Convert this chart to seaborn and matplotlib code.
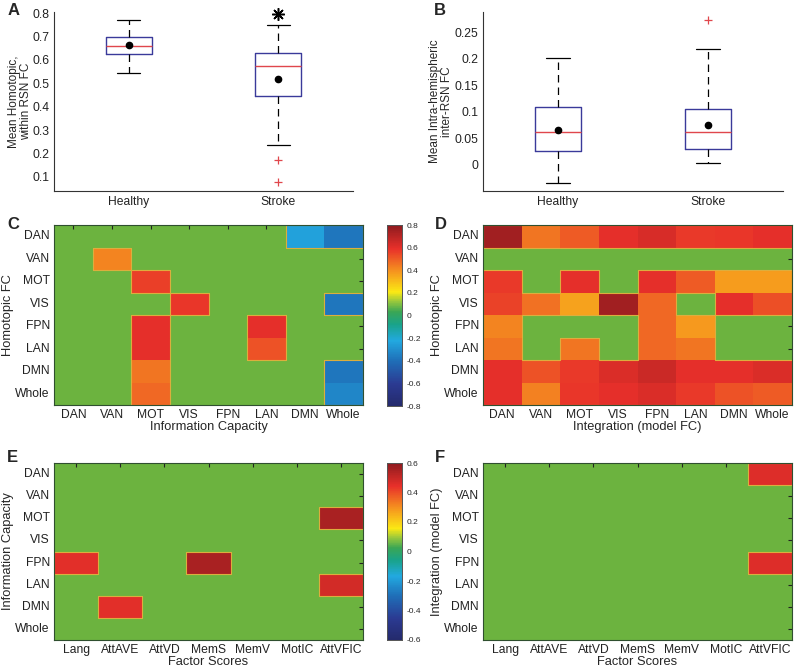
import numpy as np
import pandas as pd
import matplotlib
matplotlib.use('Agg')
import matplotlib.pyplot as plt
from matplotlib.colors import LinearSegmentedColormap
import seaborn as sns

sns.set_style('white')
plt.rcParams['font.family'] = ['Liberation Sans', 'DejaVu Sans']

## data

groups = ['Healthy', 'Stroke']

# panel A box stats: whislo, q1, med, q3, whishi, mean
a_whislo = [0.545, 0.237]
a_q1 = [0.625, 0.447]
a_med = [0.658, 0.575]
a_q3 = [0.700, 0.630]
a_whishi = [0.770, 0.748]
a_mean = [0.665, 0.518]
a_fliers = [[], [0.173, 0.077]]

# panel B box stats
b_whislo = [-0.033, 0.003]
b_q1 = [0.027, 0.031]
b_med = [0.062, 0.063]
b_q3 = [0.110, 0.106]
b_whishi = [0.202, 0.218]
b_mean = [0.066, 0.075]
b_fliers = [[], [0.272]]

rsn = ['DAN', 'VAN', 'MOT', 'VIS', 'FPN', 'LAN', 'DMN', 'Whole']
factors = ['Lang', 'AttAVE', 'AttVD', 'MemS', 'MemV', 'MotIC', 'AttVFIC']

# C: rows Homotopic FC, cols Information Capacity (0 = not significant)
c_vals = [
    [0, 0, 0, 0, 0, 0, -0.25, -0.38],
    [0, 0.42, 0, 0, 0, 0, 0, 0],
    [0, 0, 0.56, 0, 0, 0, 0, 0],
    [0, 0, 0, 0.58, 0, 0, 0, -0.38],
    [0, 0, 0.60, 0, 0, 0.60, 0, 0],
    [0, 0, 0.60, 0, 0, 0.52, 0, 0],
    [0, 0, 0.45, 0, 0, 0, 0, -0.38],
    [0, 0, 0.48, 0, 0, 0, 0, -0.33],
]

# D: rows Homotopic FC, cols Integration (model FC)
d_vals = [
    [0.75, 0.45, 0.50, 0.60, 0.63, 0.57, 0.58, 0.60],
    [0, 0, 0, 0, 0, 0, 0, 0],
    [0.57, 0, 0.60, 0, 0.60, 0.50, 0.37, 0.37],
    [0.55, 0.46, 0.36, 0.75, 0.48, 0, 0.60, 0.53],
    [0.42, 0, 0, 0, 0.48, 0.38, 0, 0],
    [0.45, 0, 0.45, 0, 0.48, 0.45, 0, 0],
    [0.60, 0.52, 0.57, 0.62, 0.66, 0.60, 0.60, 0.62],
    [0.60, 0.43, 0.58, 0.60, 0.62, 0.57, 0.52, 0.50],
]

# E: rows Information Capacity, cols Factor Scores
e_vals = [
    [0, 0, 0, 0, 0, 0, 0],
    [0, 0, 0, 0, 0, 0, 0],
    [0, 0, 0, 0, 0, 0, 0.55],
    [0, 0, 0, 0, 0, 0, 0],
    [0.45, 0, 0, 0.55, 0, 0, 0],
    [0, 0, 0, 0, 0, 0, 0.48],
    [0, 0.45, 0, 0, 0, 0, 0],
    [0, 0, 0, 0, 0, 0, 0],
]

# F: rows Integration (model FC), cols Factor Scores
f_vals = [
    [0, 0, 0, 0, 0, 0, 0.46],
    [0, 0, 0, 0, 0, 0, 0],
    [0, 0, 0, 0, 0, 0, 0],
    [0, 0, 0, 0, 0, 0, 0],
    [0, 0, 0, 0, 0, 0, 0.46],
    [0, 0, 0, 0, 0, 0, 0],
    [0, 0, 0, 0, 0, 0, 0],
    [0, 0, 0, 0, 0, 0, 0],
]

ns_green = '#6cb33f'
edge_col = '#dcae3e'

jet_like = LinearSegmentedColormap.from_list('jet_print', [
    (0.00, '#242a6c'),
    (0.12, '#2b3a92'),
    (0.25, '#1f6fb8'),
    (0.36, '#22a9e0'),
    (0.45, '#19a38a'),
    (0.52, '#3aa655'),
    (0.58, '#9cc93b'),
    (0.63, '#fbe914'),
    (0.75, '#f5901f'),
    (0.87, '#e8302a'),
    (1.00, '#8e1b1f'),
])


def px(l, t, r, b):
    return [l / 800, 1 - b / 669, (r - l) / 800, (b - t) / 669]


fig = plt.figure(figsize=(8, 6.69), dpi=100)

#%% box plots


def box_panel(ax, whislo, q1, med, q3, whishi, mean, fliers, ylim, yticks, ylabel):
    stats = []
    for i in range(len(groups)):
        stats.append(dict(whislo=whislo[i], q1=q1[i], med=med[i], q3=q3[i],
                          whishi=whishi[i], mean=mean[i], fliers=fliers[i]))
    ax.bxp(stats, positions=[1, 2], widths=0.31, showmeans=True,
           boxprops=dict(color='#3a3a9a', lw=1.0),
           medianprops=dict(color='#e0474c', lw=1.0),
           whiskerprops=dict(color='k', lw=0.9, linestyle=(0, (6, 4))),
           capprops=dict(color='k', lw=0.9),
           meanprops=dict(marker='o', markerfacecolor='k', markeredgecolor='k', markersize=4.5),
           flierprops=dict(marker='+', markeredgecolor='#e0474c', markersize=6, mew=0.9))
    ax.set_xlim(0.5, 2.5)
    ax.set_ylim(*ylim)
    ax.set_yticks(yticks)
    ax.set_yticklabels([('%g' % v) for v in yticks])
    ax.set_xticks([1, 2])
    ax.set_xticklabels(groups)
    for s in ['top', 'right']:
        ax.spines[s].set_visible(False)
    for s in ['left', 'bottom']:
        ax.spines[s].set_color('#333333')
        ax.spines[s].set_linewidth(0.8)
    ax.tick_params(direction='in', length=3, width=0.8, labelsize=8.7, colors='#222222')
    ax.set_ylabel(ylabel, fontsize=8.5, linespacing=1.0)


axA = fig.add_axes(px(54, 12, 353, 191))
box_panel(axA, a_whislo, a_q1, a_med, a_q3, a_whishi, a_mean, a_fliers,
          (0.04, 0.805), [0.1, 0.2, 0.3, 0.4, 0.5, 0.6, 0.7, 0.8],
          'Mean Homotopic,\nwithin RSN FC')
axA.yaxis.set_label_coords(-0.075, 0.5)
axA.plot([2], [0.795], marker=(8, 2, 0), ms=9, mew=1.1, color='k', clip_on=False)

axB = fig.add_axes(px(483, 12, 783, 191))
box_panel(axB, b_whislo, b_q1, b_med, b_q3, b_whishi, b_mean, b_fliers,
          (-0.049, 0.288), [0, 0.05, 0.1, 0.15, 0.2, 0.25],
          'Mean Intra-hemispheric\ninter-RSN FC')
axB.yaxis.set_label_coords(-0.1, 0.5)

#%% heatmaps


def outline_cells(ax, arr):
    # thin outline where a significant cell meets a non-significant one
    sig = arr != 0
    nr, nc = arr.shape
    for i in range(nr):
        for j in range(nc):
            if not sig[i, j]:
                continue
            if i == 0 or not sig[i - 1, j]:
                ax.plot([j, j + 1], [i, i], color=edge_col, lw=0.8)
            if i == nr - 1 or not sig[i + 1, j]:
                ax.plot([j, j + 1], [i + 1, i + 1], color=edge_col, lw=0.8)
            if j == 0 or not sig[i, j - 1]:
                ax.plot([j, j], [i, i + 1], color=edge_col, lw=0.8)
            if j == nc - 1 or not sig[i, j + 1]:
                ax.plot([j + 1, j + 1], [i, i + 1], color=edge_col, lw=0.8)


def heat_panel(ax, vals, cols, vlim, xlabel, ylabel, cax=None):
    df = pd.DataFrame(vals, index=rsn, columns=cols)
    mask = df.values == 0
    sns.heatmap(df, mask=mask, cmap=jet_like, vmin=-vlim, vmax=vlim, ax=ax,
                cbar=cax is not None, cbar_ax=cax)
    outline_cells(ax, df.values)
    ax.set_facecolor(ns_green)
    ax.tick_params(direction='in', length=3, width=0.8, top=True, right=True,
                   labelsize=8.7, colors='#222222', pad=3)
    ax.tick_params(axis='x', labelrotation=0)
    ax.tick_params(axis='y', labelrotation=0)
    for s in ax.spines.values():
        s.set_visible(True)
        s.set_color('#2f4f2f')
        s.set_linewidth(0.8)
        s.set_zorder(5)
    ax.set_xlabel(xlabel, fontsize=9.3, labelpad=0)
    ax.set_ylabel(ylabel, fontsize=9.3, labelpad=1)
    if cax is not None:
        cax.tick_params(length=0, labelsize=6, pad=3)
        ticks = [round(t, 1) + 0.0 for t in np.arange(-vlim, vlim + 0.01, 0.2)]
        cax.set_yticks(ticks)
        cax.set_yticklabels([('%g' % abs(t)) if abs(t) < 1e-9 else ('%g' % t) for t in ticks])
        for s in cax.spines.values():
            s.set_visible(True)
            s.set_linewidth(0.6)
            s.set_color('#555555')


axC = fig.add_axes(px(54, 225, 363, 405))
cax1 = fig.add_axes(px(387, 225, 402, 406))
heat_panel(axC, c_vals, rsn, 0.8, 'Information Capacity', 'Homotopic FC', cax1)

axD = fig.add_axes(px(483, 225, 792, 405))
heat_panel(axD, d_vals, rsn, 0.8, 'Integration (model FC)', 'Homotopic FC')

axE = fig.add_axes(px(54, 463, 363, 640))
cax2 = fig.add_axes(px(387, 463, 402, 640))
heat_panel(axE, e_vals, factors, 0.6, 'Factor Scores', 'Information Capacity', cax2)

axF = fig.add_axes(px(483, 463, 792, 640))
heat_panel(axF, f_vals, factors, 0.6, 'Factor Scores', 'Integration (model FC)')

#%% panel letters

for letter, x, y in [('A', 8, 3), ('B', 434, 3), ('C', 7, 217),
                     ('D', 435, 217), ('E', 7, 450), ('F', 435, 450)]:
    fig.text(x / 800, 1 - y / 669, letter, fontsize=12, fontweight='bold', va='top', ha='left')

fig.savefig('out.png', dpi=100)
